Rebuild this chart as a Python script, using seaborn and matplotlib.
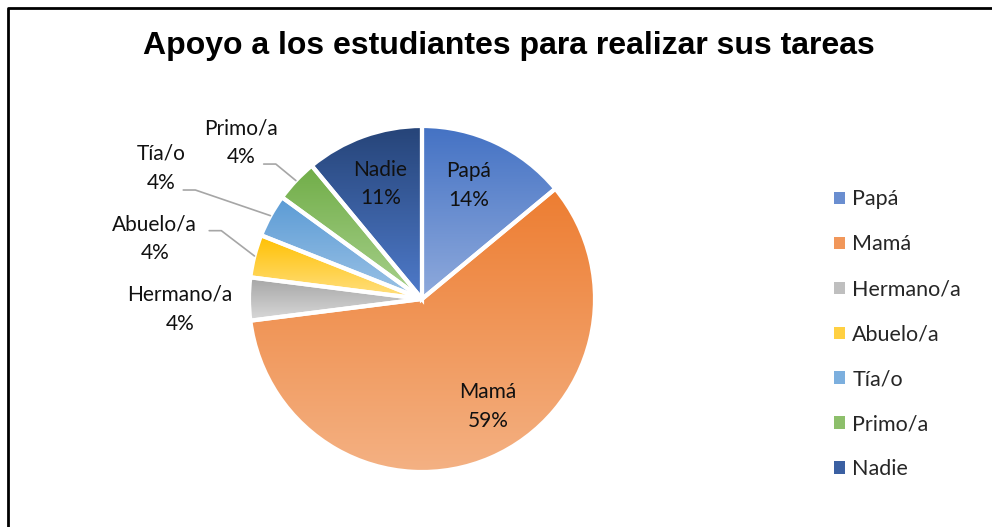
import numpy as np
import matplotlib.pyplot as plt
import seaborn as sns
from matplotlib.patches import Patch
from matplotlib.lines import Line2D

# data
categories = ["Papá", "Mamá", "Hermano/a", "Abuelo/a", "Tía/o", "Primo/a", "Nadie"]
percent = [14, 59, 4, 4, 4, 4, 11]

# gradient colours (top -> bottom of each slice), Excel style
top_colors = ["#4472C4", "#ED7D31", "#A5A5A5", "#FFC000", "#5B9BD5", "#70AD47", "#264478"]
bottom_colors = ["#8FAADC", "#F4B183", "#D9D9D9", "#FFE083", "#9DC3E6", "#A9D18E", "#4F7BCB"]

# label placement in pie units (radius = 1)
label_pos = [(0.27, 0.655), (0.38, -0.62), (-1.40, -0.06), (-1.545, 0.35),
             (-1.505, 0.755), (-1.045, 0.905), (-0.24, 0.665)]
leader_start = [None, None, None, (-1.23, 0.395), (-1.38, 0.63), (-0.915, 0.78), None]

sns.set_theme(style="white")
plt.rcParams['font.family'] = ['Lato', 'DejaVu Sans']

W, H = 992, 527
fig = plt.figure(figsize=(W / 100, H / 100), dpi=100)
ax = fig.add_axes([0, 0, 1, 1])
cx, cy, R = 422, 299, 173

wedges, _ = ax.pie(percent, startangle=90, counterclock=False, radius=1,
                   wedgeprops=dict(facecolor='none', edgecolor='white', linewidth=3, zorder=3))
# pie() resets limits, so fix them afterwards (1 unit = R pixels)
ax.set_xlim(-cx / R, (W - cx) / R)
ax.set_ylim((cy - H) / R, cy / R)
ax.set_aspect('equal')
ax.axis('off')

grad = np.linspace(0, 1, 256).reshape(-1, 1)
for w, c0, c1 in zip(wedges, top_colors, bottom_colors):
    angs = np.radians(np.linspace(w.theta1, w.theta2, 100))
    xs = np.r_[0, np.cos(angs)]
    ys = np.r_[0, np.sin(angs)]
    cmap = sns.blend_palette([c0, c1], n_colors=256, as_cmap=True)
    im = ax.imshow(grad, cmap=cmap, aspect='auto', zorder=2,
                   extent=[xs.min(), xs.max(), ys.min(), ys.max()], origin='upper')
    im.set_clip_path(w)

# data labels
for i, (w, name, p) in enumerate(zip(wedges, categories, percent)):
    x, y = label_pos[i]
    ax.text(x, y, f"{name}\n{p}%", ha='center', va='center', fontsize=15,
            color='#111111', linespacing=1.55, zorder=5)
    if leader_start[i] is not None:
        mid = np.radians((w.theta1 + w.theta2) / 2)
        sx, sy = leader_start[i]
        ax.plot([sx, sx + 0.07, np.cos(mid)], [sy, sy, np.sin(mid)],
                color='#a6a6a6', lw=1.2, zorder=4)

fig.text(0.513, 0.912, "Apoyo a los estudiantes para realizar sus tareas",
         ha='center', va='center', fontsize=23, fontweight='bold',
         family=['Liberation Sans', 'DejaVu Sans'], color='black')

handles = [Patch(facecolor=sns.blend_palette([a, b], 3)[1], edgecolor='none')
           for a, b in zip(top_colors, bottom_colors)]
fig.legend(handles, categories, loc='upper left', bbox_to_anchor=(0.832, 0.657),
           frameon=False, fontsize=15.5, handlelength=0.5, handleheight=0.5,
           handletextpad=0.35, labelspacing=1.16, borderaxespad=0)

# chart border (only top and left visible in the crop)
fig.add_artist(Line2D([8 / W, 8 / W, 1], [0, 1 - 8 / H, 1 - 8 / H],
                      color='black', lw=2, transform=fig.transFigure))

fig.savefig("out.png", dpi=100)
